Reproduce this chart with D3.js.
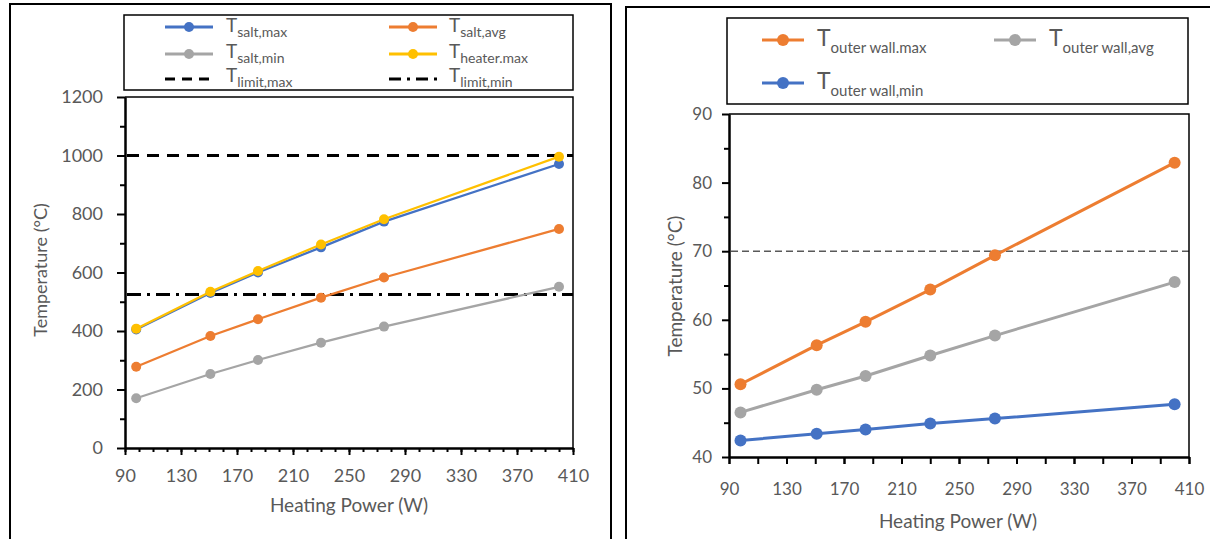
<!DOCTYPE html>
<meta charset='utf-8'>
<style>
body {
    margin: 0;
    background: #fff;
}
svg text {
    font-family: Lato, 'Open Sans', sans-serif;
    fill: #595959;
}
</style>
<body>
<svg id='chart' width='1210' height='539'></svg>
<script src='https://d3js.org/d3.v7.min.js'></script>
<script>
// heating power (W) at each measured point
var power = [98, 151, 185, 230, 275, 400];

// left chart: salt / heater temperatures (degC)
var saltMax = [405, 530, 600, 686, 774, 971];
var saltAvg = [278, 383, 440, 514, 583, 749];
var saltMin = [170, 253, 301, 360, 415, 551];
var heaterMax = [408, 534, 605, 696, 782, 996];
var limitMax = 1000;
var limitMin = 525;

// right chart: outer wall temperatures (degC)
var wallMax = [50.6, 56.3, 59.7, 64.4, 69.4, 82.9];
var wallAvg = [46.5, 49.8, 51.8, 54.8, 57.7, 65.5];
var wallMin = [42.4, 43.4, 44.0, 44.9, 45.6, 47.7];
var wallLimit = 70;

var xMajor = [90, 130, 170, 210, 250, 290, 330, 370, 410];
var leftYMajor = [0, 200, 400, 600, 800, 1000, 1200];
var rightYMajor = [40, 50, 60, 70, 80, 90];

var leftNames = ['salt,max', 'salt,avg', 'salt,min', 'heater.max', 'limit,max', 'limit,min'];
var rightNames = ['outer wall.max', 'outer wall,avg', 'outer wall,min'];

var blue = '#4472C4', orange = '#ED7D31', gray = '#A5A5A5', yellow = '#FFC000';

var svg = d3.select('#chart');

// panel frames
svg.append('rect').attr('x', 10).attr('y', 4).attr('width', 601).attr('height', 560)
    .attr('fill', 'none').attr('stroke', '#000').attr('stroke-width', 2);
svg.append('rect').attr('x', 626).attr('y', 7).attr('width', 620).attr('height', 560)
    .attr('fill', 'none').attr('stroke', '#000').attr('stroke-width', 2);

function styleAxis(g) {
    g.attr('font-family', null).attr('font-size', null);
    g.select('.domain').attr('stroke', '#000').attr('stroke-width', 2);
    g.selectAll('line').attr('stroke', '#000').attr('stroke-width', 2);
    g.selectAll('text').style('fill', '#595959');
}

function drawAxes(x, y, o) {
    var y0 = y.range()[0], x0 = x.range()[0];
    // minor ticks first
    svg.append('g').attr('transform', 'translate(0,' + y0 + ')')
        .call(d3.axisBottom(x).tickValues(d3.range(90, 411, o.xMinor)).tickFormat('')
            .tickSize(o.xMinorSize).tickSizeOuter(0))
        .call(styleAxis);
    svg.append('g').attr('transform', 'translate(' + x0 + ',0)')
        .call(d3.axisLeft(y).tickValues(o.yMinor).tickFormat('')
            .tickSize(o.yMinorSize).tickSizeOuter(0))
        .call(styleAxis);
    // plot box top and right
    svg.append('path')
        .attr('d', 'M' + x0 + ',' + y.range()[1] + 'H' + x.range()[1] + 'V' + y0)
        .attr('fill', 'none').attr('stroke', '#000').attr('stroke-width', 1.5);
    var gx = svg.append('g').attr('transform', 'translate(0,' + y0 + ')')
        .call(d3.axisBottom(x).tickValues(xMajor).tickFormat(d3.format('d'))
            .tickSize(o.xSize).tickPadding(o.xPad).tickSizeOuter(0))
        .call(styleAxis);
    gx.selectAll('text').attr('font-size', o.tickFont);
    var gy = svg.append('g').attr('transform', 'translate(' + x0 + ',0)')
        .call(d3.axisLeft(y).tickValues(o.yMajor).tickFormat(d3.format('d'))
            .tickSize(o.ySize).tickPadding(o.yPad).tickSizeOuter(0))
        .call(styleAxis);
    gy.selectAll('text').attr('font-size', o.tickFont);
}

function drawSeries(x, y, vals, color, w, r) {
    var pts = power.map(function(p, i) { return [p, vals[i]]; });
    svg.append('path').datum(pts)
        .attr('d', d3.line().x(function(d) { return x(d[0]); }).y(function(d) { return y(d[1]); }))
        .attr('fill', 'none').attr('stroke', color).attr('stroke-width', w);
    svg.append('g').selectAll('circle').data(pts).enter().append('circle')
        .attr('cx', function(d) { return x(d[0]); })
        .attr('cy', function(d) { return y(d[1]); })
        .attr('r', r).attr('fill', color);
}

function hLine(x, y, v, color, w, dash) {
    svg.append('line')
        .attr('x1', x.range()[0] + 2).attr('x2', x.range()[1])
        .attr('y1', y(v)).attr('y2', y(v))
        .attr('stroke', color).attr('stroke-width', w).attr('stroke-dasharray', dash);
}

// lx,ly: sample centre; tx,ty: text start and baseline of the "T"
function legendItem(lx, ly, tx, ty, sub, color, r, dash, tSize, sSize, len, subDy) {
    svg.append('line').attr('x1', lx - len / 2).attr('x2', lx + len / 2)
        .attr('y1', ly).attr('y2', ly)
        .attr('stroke', color).attr('stroke-width', 3).attr('stroke-dasharray', dash || null);
    if (r) svg.append('circle').attr('cx', lx).attr('cy', ly).attr('r', r).attr('fill', color);
    var t = svg.append('text').attr('x', tx).attr('y', ty);
    t.append('tspan').attr('font-size', tSize).text('T');
    t.append('tspan').attr('font-size', sSize).attr('dy', subDy).text(sub);
}

// ---------- left chart ----------
var xL = d3.scaleLinear().domain([90, 410]).range([125, 573]);
var yL = d3.scaleLinear().domain([0, 1200]).range([448, 97]);

hLine(xL, yL, limitMax, '#000', 3, '12,8');
hLine(xL, yL, limitMin, '#000', 3, '14,6,3,6');

drawSeries(xL, yL, saltMax, blue, 2.25, 5);
drawSeries(xL, yL, saltAvg, orange, 2.25, 5);
drawSeries(xL, yL, saltMin, gray, 2.25, 5);
drawSeries(xL, yL, heaterMax, yellow, 2.25, 5);

drawAxes(xL, yL, {
    xMinor: 10, xMinorSize: 4, xSize: 7, xPad: 14,
    yMinor: d3.range(100, 1200, 200), yMinorSize: 5, ySize: 8, yPad: 14,
    yMajor: leftYMajor, tickFont: 18
});

svg.append('text').attr('transform', 'translate(47,270) rotate(-90)')
    .attr('text-anchor', 'middle').attr('font-size', 18).text('Temperature (°C)');
svg.append('text').attr('x', 349).attr('y', 512)
    .attr('text-anchor', 'middle').attr('font-size', 19).text('Heating Power (W)');

// left legend
svg.append('rect').attr('x', 124).attr('y', 15).attr('width', 449).attr('height', 75)
    .attr('fill', '#fff').attr('stroke', '#000').attr('stroke-width', 1.5);
var lCols = [189, 413], lText = [226, 449], lRows = [27, 54, 79], lBase = [32, 58, 82];
var lColors = [blue, orange, gray, yellow, '#000', '#000'];
var lDash = [null, null, null, null, '10,7', '12,6,3,6'];
leftNames.forEach(function(n, i) {
    var c = i % 2, rr = Math.floor(i / 2);
    legendItem(lCols[c], lRows[rr], lText[c], lBase[rr], n, lColors[i],
        i < 4 ? 5 : 0, lDash[i], 19, 14, 48, 5);
});

// ---------- right chart ----------
var xR = d3.scaleLinear().domain([90, 410]).range([729, 1189]);
var yR = d3.scaleLinear().domain([40, 90]).range([457, 114]);

hLine(xR, yR, wallLimit, '#595959', 1.5, '7,4');

drawSeries(xR, yR, wallMax, orange, 3, 6);
drawSeries(xR, yR, wallAvg, gray, 3, 6);
drawSeries(xR, yR, wallMin, blue, 3, 6);

drawAxes(xR, yR, {
    xMinor: 20, xMinorSize: 7, xSize: 7, xPad: 19,
    yMinor: d3.range(45, 90, 10), yMinorSize: 5, ySize: 7, yPad: 10,
    yMajor: rightYMajor, tickFont: 17
});

svg.append('text').attr('transform', 'translate(682,286) rotate(-90)')
    .attr('text-anchor', 'middle').attr('font-size', 19).text('Temperature (°C)');
svg.append('text').attr('x', 958).attr('y', 528)
    .attr('text-anchor', 'middle').attr('font-size', 19).text('Heating Power (W)');

// right legend
svg.append('rect').attr('x', 727).attr('y', 18).attr('width', 461).attr('height', 86)
    .attr('fill', '#fff').attr('stroke', '#000').attr('stroke-width', 1.5);
var rPos = [[783, 40, 817, 46], [1015, 40, 1049, 46], [783, 83, 817, 89]];
var rColors = [orange, gray, blue];
rightNames.forEach(function(n, i) {
    legendItem(rPos[i][0], rPos[i][1], rPos[i][2], rPos[i][3], n, rColors[i],
        6, null, 23, 15, 42, 7);
});
</script>
</body>
